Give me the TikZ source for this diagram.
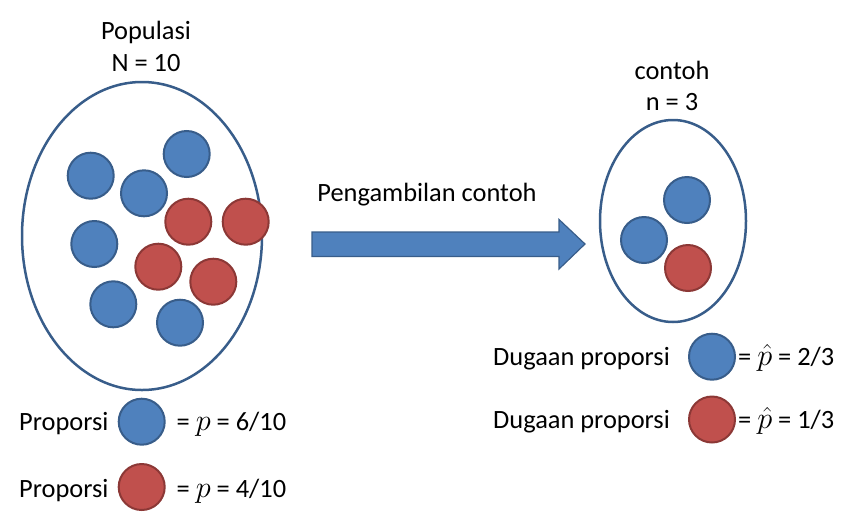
\documentclass[tikz,border=0pt]{standalone}
\usepackage{fontspec}
\usepackage{graphicx}
\setmainfont{Carlito}
\usetikzlibrary{shapes.geometric}
\definecolor{bfill}{HTML}{4F81BD}
\definecolor{bdraw}{HTML}{385D8A}
\definecolor{rfill}{HTML}{C0504D}
\definecolor{rdraw}{HTML}{8C3836}
\newcommand{\bigp}{\scalebox{1.22}{$p$}}
\newcommand{\bigph}{\scalebox{1.22}{$\hat{p}$}}
\tikzset{
  ball/.style={circle, minimum size=46pt, inner sep=0pt, line width=2pt},
  bball/.style={ball, fill=bfill, draw=bdraw},
  rball/.style={ball, fill=rfill, draw=rdraw},
  lbl/.style={inner sep=0pt, font=\fontsize{26.4}{30}\selectfont},
  lblc/.style={lbl, anchor=base},
  lblw/.style={lbl, anchor=base west},
  pop/.style={ellipse, draw=bdraw, line width=2.5pt, inner sep=0pt},
}
\begin{document}
\begin{tikzpicture}[x=1pt,y=-1pt]
\useasboundingbox (0,0) rectangle (853,517);
% titles
\node[lblc] (t1) at (146,39) {Populasi};
\node[lblc] (t2) at (146,71) {N = 10};
\node[lblc] (t3) at (672,79) {contoh};
\node[lblc] (t4) at (672,110) {n = 3};
\node[lblc] (t5) at (427,201) {Pengambilan contoh};
% population ellipse
\node[pop, minimum width=240pt, minimum height=308pt] (P) at (142,236) {};
\node[bball] (b1) at (90.7,175.7) {};
\node[bball] (b2) at (186.7,154) {};
\node[bball] (b3) at (144,193.3) {};
\node[rball] (r1) at (188.3,221.7) {};
\node[rball] (r2) at (245.7,221.7) {};
\node[bball] (b4) at (94.3,244) {};
\node[rball] (r3) at (158.3,266.7) {};
\node[rball] (r4) at (213.3,281.7) {};
\node[bball] (b5) at (113.3,304.3) {};
\node[bball] (b6) at (180,322.7) {};
% sample ellipse
\node[pop, minimum width=146pt, minimum height=202pt] (S) at (673,221) {};
\node[bball] (s1) at (687,200) {};
\node[bball] (s2) at (644,240) {};
\node[rball] (s3) at (688,268) {};
% arrow
\coordinate (a1) at (312,232);
\coordinate (a2) at (559,232);
\coordinate (a3) at (559,219.5);
\coordinate (a4) at (585,244);
\coordinate (a5) at (559,269);
\coordinate (a6) at (559,256.5);
\coordinate (a7) at (312,256.5);
\draw[fill=bfill, draw=bdraw, line width=1.2pt, line join=miter] (a1) -- (a2) -- (a3) -- (a4) -- (a5) -- (a6) -- (a7) -- cycle;
% legend left
\node[lblw] (l1) at (19,430) {Proporsi};
\node[bball] (lb1) at (141.7,421.7) {};
\node[lblw] (l1e) at (176.5,430) {= \bigp{} = 6/10};
\node[lblw] (l2) at (19,497) {Proporsi};
\node[rball] (lb2) at (141.7,487) {};
\node[lblw] (l2e) at (176.5,497) {= \bigp{} = 4/10};
% legend right
\node[lblw] (d1) at (493,365) {Dugaan proporsi};
\node[bball] (db1) at (712,356.7) {};
\node[lblw] (d1e) at (738,365) {= \bigph{} = 2/3};
\node[lblw] (d2) at (493,428) {Dugaan proporsi};
\node[rball] (db2) at (712,419.5) {};
\node[lblw] (d2e) at (738,428) {= \bigph{} = 1/3};
\end{tikzpicture}
\end{document}
